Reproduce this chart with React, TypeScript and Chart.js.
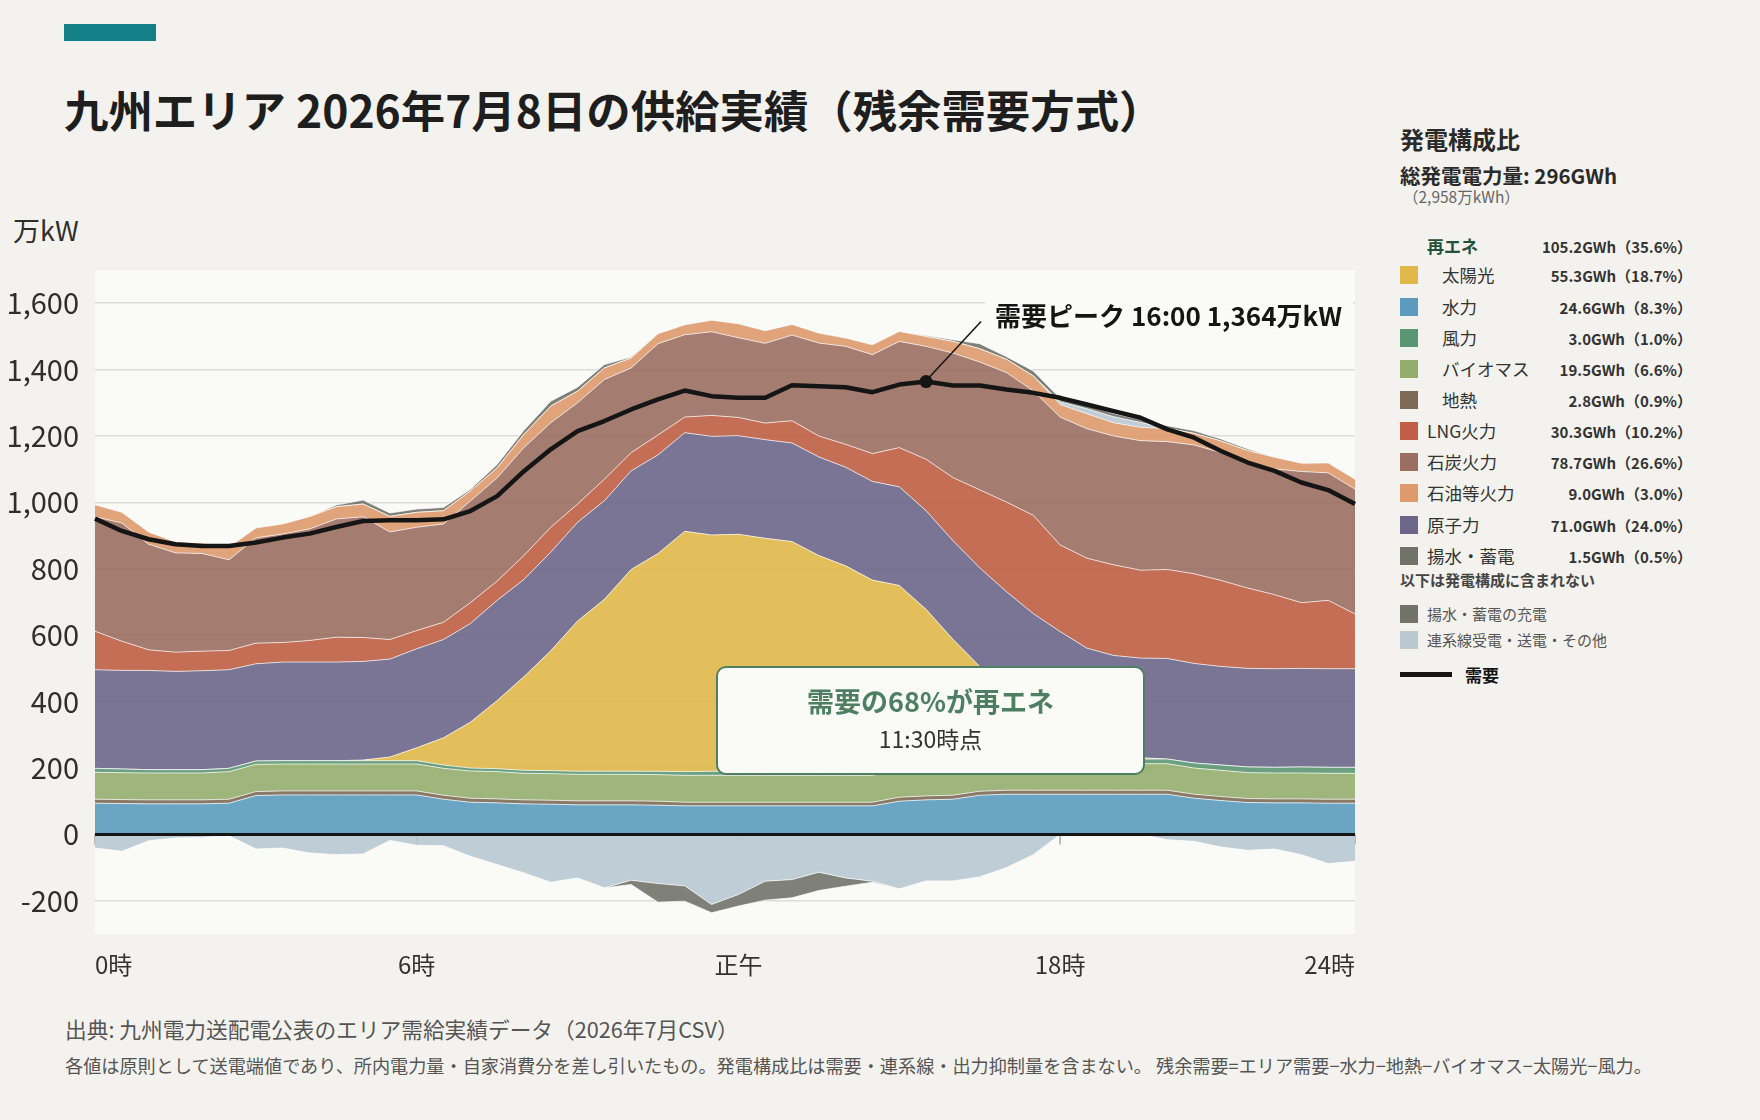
import React, { useEffect, useRef } from 'react';
import { Chart, registerables } from 'chart.js';

Chart.register(...registerables);

const FONT = '"Noto Sans CJK JP", "Noto Sans", sans-serif';

// 30-minute slots from 0:00 to 23:30
const timeSlots = Array.from({ length: 48 }, (_, i) => `${Math.floor(i / 2)}:${i % 2 ? '30' : '00'}`);

// Hour labels shown under the plot (slot index + text)
const hourTickIndex = [0, 12, 24, 36, 47];
const hourTickLabels = ['0時', '6時', '正午', '18時', '24時'];

// Value-axis ticks, 万kW
const yTickValues = [-200, 0, 200, 400, 600, 800, 1000, 1200, 1400, 1600];

// Supply by source, 万kW (stacked from the bottom up)
const hydro = [94, 93, 92, 92, 92, 94, 117, 119, 119, 119, 119, 119, 119, 106, 97, 95, 92, 91, 89, 89, 89, 88, 86, 86, 86, 86, 86, 86, 86, 86, 100, 104, 106, 118, 121, 121, 121, 121, 121, 121, 121, 109, 102, 96, 95, 95, 94, 94];
const geothermal = [12, 12, 12, 12, 12, 12, 12, 12, 12, 12, 12, 12, 12, 12, 12, 12, 12, 12, 12, 12, 12, 12, 11, 11, 11, 11, 11, 11, 11, 11, 12, 12, 12, 12, 12, 12, 12, 12, 12, 12, 12, 12, 12, 12, 12, 12, 12, 12];
const biomass = [81, 81, 81, 81, 81, 83, 82, 81, 81, 81, 81, 81, 81, 81, 82, 82, 80, 80, 80, 80, 80, 80, 81, 81, 81, 81, 81, 81, 81, 81, 80, 80, 80, 80, 80, 80, 80, 80, 80, 80, 80, 79, 79, 78, 78, 78, 78, 78];
const wind = [12, 11, 10, 10, 10, 10, 10, 10, 10, 10, 10, 10, 10, 10, 9, 9, 9, 9, 9, 9, 9, 10, 11, 12, 12, 12, 12, 12, 12, 12, 13, 13, 13, 13, 13, 13, 14, 14, 14, 14, 14, 15, 16, 17, 17, 18, 18, 18];
const solar = [0, 0, 0, 0, 0, 0, 0, 0, 0, 0, 2, 11, 39, 82, 138, 205, 282, 361, 453, 518, 608, 656, 724, 712, 714, 702, 692, 650, 619, 576, 545, 469, 377, 283, 208, 142, 87, 37, 15, 4, 0, 0, 0, 0, 0, 0, 0, 0];
const nuclear = [297, 297, 299, 296, 298, 297, 293, 297, 297, 297, 297, 295, 298, 296, 297, 302, 293, 297, 297, 297, 297, 297, 297, 297, 297, 297, 297, 297, 297, 297, 297, 297, 297, 297, 297, 297, 297, 297, 297, 300, 303, 300, 297, 297, 297, 297, 297, 297];
const lng = [116, 88, 62, 58, 59, 58, 62, 59, 65, 75, 72, 59, 55, 52, 63, 58, 72, 75, 55, 65, 55, 60, 47, 63, 55, 50, 67, 63, 69, 84, 118, 155, 190, 235, 270, 296, 261, 271, 273, 265, 268, 270, 259, 242, 223, 198, 206, 165];
const coal = [345, 356, 318, 299, 294, 273, 317, 327, 336, 356, 364, 324, 311, 296, 306, 311, 325, 315, 305, 300, 255, 275, 248, 252, 240, 240, 258, 280, 295, 298, 320, 340, 375, 385, 390, 375, 385, 390, 388, 390, 385, 388, 385, 379, 379, 395, 384, 376];
const oil = [36, 32, 37, 33, 32, 38, 30, 30, 37, 37, 38, 47, 45, 40, 30, 30, 40, 50, 35, 35, 30, 30, 30, 35, 42, 38, 32, 30, 25, 30, 30, 30, 35, 40, 40, 45, 38, 45, 40, 40, 40, 35, 35, 35, 35, 25, 30, 30];
const pumpedGen = [0, 0, 0, 0, 0, 0, 0, 0, 0, 5, 12, 10, 10, 10, 5, 10, 12, 15, 12, 10, 3, 0, 0, 0, 0, 0, 0, 0, 0, 0, 0, 3, 5, 15, 8, 15, 10, 10, 10, 8, 8, 8, 6, 5, 0, 0, 0, 0];
// Interconnection: + receiving, − sending / other
const interconnect = [-41, -51, -19, -11, -9, -4, -44, -41, -56, -61, -59, -18, -33, -34, -66, -91, -116, -144, -131, -161, -138, -148, -155, -211, -181, -141, -136, -114, -131, -141, -164, -140, -140, -128, -100, -61, 8, 15, 18, 15, -16, -21, -38, -48, -44, -61, -88, -81];
// Pumped-storage / battery charging (negative)
const charging = [0, 0, 0, 0, 0, 0, 0, 0, 0, 0, 0, 0, 0, 0, 0, 0, 0, 0, 0, 0, -13, -56, -46, -25, -35, -57, -55, -55, -25, -3, 0, 0, 0, 0, 0, 0, 0, 0, 0, 0, 0, 0, 0, 0, 0, 0, 0, 0];
// Area demand, 万kW
const demand = [951, 914, 889, 874, 869, 869, 879, 894, 906, 926, 944, 946, 946, 949, 974, 1019, 1094, 1160, 1215, 1245, 1280, 1310, 1337, 1320, 1315, 1315, 1353, 1350, 1347, 1332, 1355, 1364, 1352, 1352, 1340, 1330, 1315, 1295, 1275, 1255, 1220, 1195, 1155, 1120, 1095, 1060, 1037, 995];

const PEAK_INDEX = 31;
const peakLabel = '需要ピーク 16:00 1,364万kW';

// Generation mix summary
const mixNames = ['太陽光', '水力', '風力', 'バイオマス', '地熱', 'LNG火力', '石炭火力', '石油等火力', '原子力', '揚水・蓄電'];
const mixGWh = [55.3, 24.6, 3.0, 19.5, 2.8, 30.3, 78.7, 9.0, 71.0, 1.5];
const mixShare = [18.7, 8.3, 1.0, 6.6, 0.9, 10.2, 26.6, 3.0, 24.0, 0.5];
const renewableGWh = 105.2;
const renewableShare = 35.6;

const COLORS = {
  solar: '#E0B84A',
  hydro: '#5A9BBE',
  wind: '#5B9672',
  biomass: '#93AD6D',
  geothermal: '#7E6A57',
  lng: '#BF5E44',
  coal: '#9A6E60',
  oil: '#DE9A6B',
  nuclear: '#6C6688',
  pumped: '#717369',
  grid: '#B8C9D1',
};
const mixColors = [COLORS.solar, COLORS.hydro, COLORS.wind, COLORS.biomass, COLORS.geothermal, COLORS.lng, COLORS.coal, COLORS.oil, COLORS.nuclear, COLORS.pumped];

const fmtEnergy = (g: number, p: number) => `${g.toFixed(1)}GWh（${p.toFixed(1)}%）`;

const decorPlugin = {
  id: 'decor',
  beforeDraw(chart: any) {
    const { ctx, chartArea: a } = chart;
    ctx.save();
    ctx.fillStyle = '#FAFAF7';
    ctx.fillRect(a.left, a.top, a.right - a.left, a.bottom - a.top);
    ctx.restore();
  },
  beforeDatasetsDraw(chart: any) {
    const { ctx } = chart;
    const xs = chart.scales.x;
    const y0 = chart.scales.y.getPixelForValue(0);
    ctx.save();
    ctx.strokeStyle = '#A9A9A5';
    ctx.lineWidth = 1.5;
    hourTickIndex.forEach((idx) => {
      const px = xs.getPixelForValue(idx);
      ctx.beginPath();
      ctx.moveTo(px, y0);
      ctx.lineTo(px, y0 + 10);
      ctx.stroke();
    });
    ctx.restore();
  },
  afterDatasetsDraw(chart: any) {
    const { ctx, chartArea: a } = chart;
    const y0 = chart.scales.y.getPixelForValue(0);
    ctx.save();
    // zero line
    ctx.strokeStyle = '#151515';
    ctx.lineWidth = 3;
    ctx.beginPath();
    ctx.moveTo(a.left, y0);
    ctx.lineTo(a.right, y0);
    ctx.stroke();

    // demand peak callout
    const meta = chart.getDatasetMeta(chart.data.datasets.length - 1);
    const pt = meta.data[PEAK_INDEX];
    const lx = pt.x + 55;
    const ly = pt.y - 60;
    ctx.font = `700 26px ${FONT}`;
    ctx.fillStyle = '#FAFAF7';
    ctx.fillRect(lx + 4, ly - 27, a.right - lx - 6, 46);
    ctx.strokeStyle = '#151515';
    ctx.lineWidth = 1.5;
    ctx.beginPath();
    ctx.moveTo(pt.x + 3, pt.y - 4);
    ctx.lineTo(lx, ly);
    ctx.stroke();
    ctx.fillStyle = '#151515';
    ctx.textBaseline = 'middle';
    ctx.textAlign = 'left';
    ctx.fillText(peakLabel, lx + 14, ly - 5);
    ctx.restore();
  },
  afterDraw(chart: any) {
    const { ctx, chartArea: a } = chart;
    const xs = chart.scales.x;
    ctx.save();
    ctx.font = `400 24px ${FONT}`;
    ctx.fillStyle = '#333333';
    ctx.textBaseline = 'middle';
    hourTickIndex.forEach((idx, k) => {
      const px = xs.getPixelForValue(idx);
      ctx.textAlign = k === 0 ? 'left' : k === hourTickIndex.length - 1 ? 'right' : 'center';
      ctx.fillText(hourTickLabels[k], px, a.bottom + 31);
    });
    ctx.restore();
  },
};

function area(label: string, data: number[], color: string, fill: any, stack: string) {
  return {
    type: 'line',
    label,
    data,
    stack,
    fill,
    backgroundColor: color + 'E6',
    borderColor: 'rgba(255,255,255,0.7)',
    borderWidth: 1,
    pointRadius: 0,
    pointHoverRadius: 0,
    tension: 0,
  };
}

export default function App() {
  const canvasRef = useRef<HTMLCanvasElement>(null);

  useEffect(() => {
    if (!canvasRef.current) return;
    const receiving = interconnect.map((v) => (v > 0 ? v : 0));
    const sending = interconnect.map((v) => (v < 0 ? v : 0));
    const datasets: any[] = [
      area('水力', hydro, COLORS.hydro, 'origin', 'supply'),
      area('地熱', geothermal, COLORS.geothermal, '-1', 'supply'),
      area('バイオマス', biomass, COLORS.biomass, '-1', 'supply'),
      area('風力', wind, COLORS.wind, '-1', 'supply'),
      area('太陽光', solar, COLORS.solar, '-1', 'supply'),
      area('原子力', nuclear, COLORS.nuclear, '-1', 'supply'),
      area('LNG火力', lng, COLORS.lng, '-1', 'supply'),
      area('石炭火力', coal, COLORS.coal, '-1', 'supply'),
      area('石油等火力', oil, COLORS.oil, '-1', 'supply'),
      area('連系線受電', receiving, COLORS.grid, '-1', 'supply'),
      area('揚水・蓄電', pumpedGen, COLORS.pumped, '-1', 'supply'),
      area('連系線送電・その他', sending, COLORS.grid, 'origin', 'outflow'),
      area('揚水・蓄電の充電', charging, COLORS.pumped, '-1', 'outflow'),
      {
        type: 'line',
        label: '需要',
        data: demand,
        stack: 'demand',
        order: -1,
        fill: false,
        borderColor: '#151515',
        borderWidth: 4.5,
        borderJoinStyle: 'round',
        tension: 0,
        pointRadius: (c: any) => (c.dataIndex === PEAK_INDEX ? 6.5 : 0),
        pointBackgroundColor: '#151515',
        pointBorderWidth: 0,
        pointHoverRadius: 0,
      },
    ];

    const chart = new Chart(canvasRef.current, {
      type: 'line',
      data: { labels: timeSlots, datasets },
      options: {
        responsive: false,
        animation: false,
        devicePixelRatio: 1,
        events: [],
        layout: { padding: { top: 270, right: 25, bottom: 66, left: 0 } },
        plugins: { legend: { display: false }, tooltip: { enabled: false } },
        scales: {
          x: { type: 'category', display: false, offset: false },
          y: {
            stacked: true,
            min: -300,
            max: 1700,
            afterBuildTicks: (s: any) => {
              s.ticks = yTickValues.map((value) => ({ value }));
            },
            afterFit: (s: any) => {
              s.width = 95;
            },
            border: { display: false },
            grid: { color: '#DCDCD7', lineWidth: 1.5, drawTicks: false },
            ticks: {
              padding: 16,
              color: '#2E2E2E',
              font: { family: FONT, size: 29 },
              callback: (v: any) => Number(v).toLocaleString('en-US'),
            },
          },
        },
      } as any,
      plugins: [decorPlugin],
    } as any);
    return () => chart.destroy();
  }, []);

  const abs = (s: React.CSSProperties): React.CSSProperties => ({ position: 'absolute', whiteSpace: 'nowrap', ...s });
  const rowY = [275, 307, 338, 369, 400, 431, 462, 493, 525, 556];
  const valueRight = 1760 - 1692;

  return (
    <div style={{ position: 'absolute', left: 0, top: 0, width: 1760, height: 1120, background: '#F4F2EE', fontFamily: FONT, overflow: 'hidden', color: '#222' }}>
      <div style={abs({ left: 64, top: 24, width: 92, height: 17, background: '#137F87' })} />
      <div style={abs({ left: 64, top: 87, fontSize: 44.4, lineHeight: '44px', fontWeight: 700, color: '#1E1E1E' })}>
        九州エリア 2026年7月8日の供給実績（残余需要方式）
      </div>
      <div style={abs({ left: 13, top: 216, fontSize: 27, lineHeight: '28px', color: '#2E2E2E' })}>万kW</div>

      <canvas ref={canvasRef} width={1380} height={1000} style={{ position: 'absolute', left: 0, top: 0, width: 1380, height: 1000 }} />

      <div
        style={abs({
          left: 716,
          top: 666,
          width: 429,
          height: 109,
          boxSizing: 'border-box',
          border: '2px solid #4E7F63',
          borderRadius: 10,
          background: '#FAFBF7',
        })}
      >
        <div style={abs({ left: 0, right: 0, top: 18, textAlign: 'center', fontSize: 27, lineHeight: '30px', fontWeight: 700, color: '#4E7F63' })}>
          需要の68%が再エネ
        </div>
        <div style={abs({ left: 0, right: 0, top: 57, textAlign: 'center', fontSize: 23, lineHeight: '26px', color: '#333' })}>11:30時点</div>
      </div>

      {/* generation mix panel */}
      <div style={abs({ left: 1400, top: 126, fontSize: 24, lineHeight: '26px', fontWeight: 700, color: '#2A2A2A' })}>発電構成比</div>
      <div style={abs({ left: 1400, top: 164, fontSize: 20.5, lineHeight: '22px', fontWeight: 700, color: '#2A2A2A' })}>総発電電力量: 296GWh</div>
      <div style={abs({ left: 1403, top: 187, fontSize: 15.5, lineHeight: '18px', color: '#666' })}>（2,958万kWh）</div>

      <div style={abs({ left: 1427, top: 235, fontSize: 17, lineHeight: '21px', fontWeight: 700, color: '#24513A' })}>再エネ</div>
      <div style={abs({ right: valueRight, top: 237, fontSize: 15, lineHeight: '19px', fontWeight: 700, color: '#333' })}>
        {fmtEnergy(renewableGWh, renewableShare)}
      </div>

      {mixNames.map((name, i) => (
        <React.Fragment key={name}>
          <div style={abs({ left: 1400, top: rowY[i] - 9, width: 18, height: 18, background: mixColors[i] })} />
          <div style={abs({ left: i < 5 ? 1442 : 1427, top: rowY[i] - 12, fontSize: 17.5, lineHeight: '23px', color: '#333' })}>{name}</div>
          <div style={abs({ right: valueRight, top: rowY[i] - 9, fontSize: 15, lineHeight: '19px', fontWeight: 700, color: '#333' })}>
            {fmtEnergy(mixGWh[i], mixShare[i])}
          </div>
        </React.Fragment>
      ))}

      <div style={abs({ left: 1400, top: 571, fontSize: 15, lineHeight: '18px', fontWeight: 700, color: '#444' })}>以下は発電構成に含まれない</div>
      <div style={abs({ left: 1400, top: 605, width: 18, height: 18, background: COLORS.pumped })} />
      <div style={abs({ left: 1427, top: 604, fontSize: 15, lineHeight: '20px', color: '#555' })}>揚水・蓄電の充電</div>
      <div style={abs({ left: 1400, top: 631, width: 18, height: 18, background: COLORS.grid })} />
      <div style={abs({ left: 1427, top: 630, fontSize: 15, lineHeight: '20px', color: '#555' })}>連系線受電・送電・その他</div>
      <div style={abs({ left: 1400, top: 672, width: 52, height: 5, background: '#151515' })} />
      <div style={abs({ left: 1465, top: 664, fontSize: 17, lineHeight: '22px', fontWeight: 700, color: '#151515' })}>需要</div>

      {/* footnotes */}
      <div style={abs({ left: 65, top: 1017, fontSize: 21.7, lineHeight: '24px', color: '#555' })}>
        出典: 九州電力送配電公表のエリア需給実績データ（2026年7月CSV）
      </div>
      <div style={abs({ left: 65, top: 1054, fontSize: 18.15, lineHeight: '22px', color: '#555' })}>
        各値は原則として送電端値であり、所内電力量・自家消費分を差し引いたもの。発電構成比は需要・連系線・出力抑制量を含まない。 残余需要=エリア需要−水力−地熱−バイオマス−太陽光−風力。
      </div>
    </div>
  );
}
